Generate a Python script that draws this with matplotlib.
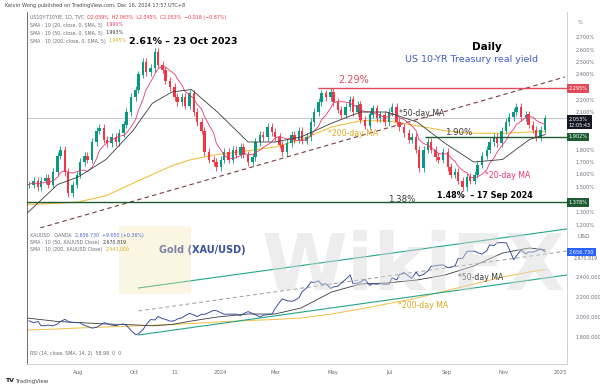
import matplotlib
matplotlib.use("Agg")
import matplotlib.pyplot as plt
import matplotlib.dates as mdates
from matplotlib.patches import FancyBboxPatch
import numpy as np
import pandas as pd

# US 10Y real yield (%), close every 3rd trading day from 9 Jun 2023
ry_close = [
    1.52, 1.55, 1.50, 1.55, 1.57, 1.52, 1.62, 1.75, 1.80, 1.62,
    1.45, 1.52, 1.60, 1.70, 1.75, 1.72, 1.86, 1.95, 1.97, 1.88,
    1.85, 1.90, 1.86, 1.93, 2.00, 2.10, 2.22, 2.28, 2.40, 2.50,
    2.42, 2.45, 2.58, 2.48, 2.44, 2.35, 2.30, 2.22, 2.18, 2.22,
    2.15, 2.25, 2.10, 2.02, 1.95, 1.78, 1.72, 1.70, 1.66, 1.72,
    1.78, 1.72, 1.80, 1.76, 1.82, 1.76, 1.70, 1.74, 1.86, 1.92,
    1.90, 1.98, 1.94, 1.90, 1.84, 1.78, 1.85, 1.92, 1.88, 1.95,
    1.87, 1.90, 2.02, 2.10, 2.18, 2.25, 2.22, 2.26, 2.18, 2.12,
    2.08, 2.14, 2.20, 2.10, 2.16, 2.04, 1.99, 2.08, 2.13, 2.05,
    2.08, 2.02, 2.10, 2.14, 2.02, 1.98, 1.93, 1.88, 1.90, 1.80,
    1.65, 1.80, 1.86, 1.80, 1.74, 1.72, 1.78, 1.66, 1.60, 1.62,
    1.55, 1.50, 1.58, 1.55, 1.60, 1.68, 1.75, 1.80, 1.86, 1.90,
    1.85, 1.95, 2.02, 2.06, 2.10, 2.14, 2.06, 2.08, 2.00, 1.96,
    1.90, 1.96, 2.05,
]

# gold XAU/USD close on the same days
gold_close = [
    1962, 1943, 1955, 1913, 1914, 1919, 1911, 1932, 1955, 1977,
    1955, 1945, 1944, 1942, 1915, 1907, 1889, 1897, 1914, 1942,
    1937, 1919, 1913, 1924, 1930, 1916, 1865, 1823, 1832, 1874,
    1920, 1974, 1971, 2006, 1983, 1977, 1958, 1963, 1981, 1992,
    2013, 2036, 2019, 2004, 2027, 2027, 2045, 2067, 2063, 2042,
    2027, 2029, 2028, 2029, 2014, 2033, 2054, 2035, 2024, 2000,
    2017, 2024, 2030, 2083, 2148, 2182, 2162, 2157, 2165, 2194,
    2250, 2290, 2352, 2344, 2361, 2327, 2332, 2286, 2301, 2309,
    2336, 2376, 2421, 2334, 2338, 2350, 2376, 2316, 2332, 2328,
    2334, 2327, 2330, 2392, 2371, 2422, 2445, 2409, 2387, 2447,
    2410, 2426, 2465, 2507, 2512, 2518, 2521, 2493, 2497, 2512,
    2582, 2587, 2657, 2658, 2659, 2643, 2630, 2662, 2721, 2714,
    2742, 2744, 2742, 2684, 2573, 2612, 2670, 2632, 2650, 2650,
    2660, 2681, 2652,
]

# moving averages
ma_dates = ["2023-06-07", "2023-07-10", "2023-08-01", "2023-08-31", "2023-09-29",
            "2023-10-20", "2023-11-10", "2023-12-01", "2023-12-29", "2024-01-31",
            "2024-02-29", "2024-03-28", "2024-04-30", "2024-05-31", "2024-06-28",
            "2024-07-31", "2024-08-30", "2024-09-30", "2024-10-31", "2024-11-29",
            "2024-12-16"]
ry_ma50 = [1.29, 1.52, 1.58, 1.72, 1.95, 2.17, 2.26, 2.28, 2.10, 1.86, 1.86,
           1.90, 2.01, 2.10, 2.10, 2.02, 1.85, 1.70, 1.72, 1.88, 1.92]
ry_ma200 = [1.36, 1.37, 1.38, 1.43, 1.53, 1.60, 1.67, 1.72, 1.76, 1.79, 1.82,
            1.88, 1.98, 2.03, 2.03, 1.99, 1.95, 1.93, 1.93, 1.94, 1.945]
gold_ma50 = [1990, 1955, 1945, 1930, 1922, 1912, 1925, 1960, 2000, 2030, 2030,
             2090, 2250, 2330, 2340, 2370, 2420, 2510, 2640, 2690, 2671]
gold_ma200 = [1870, 1880, 1890, 1900, 1910, 1918, 1925, 1935, 1950, 1965, 1975,
              1990, 2030, 2080, 2130, 2190, 2260, 2330, 2400, 2450, 2475]

# drawn levels / trendlines
res_level, res_start = 2.29, "2024-04-15"
mid_level, mid_start = 1.902, "2024-08-08"
sup_level = 1.378
trend_dates, trend_vals = ["2023-06-21", "2025-01-06"], [1.172, 2.38]
chan_dates = ["2023-10-05", "2025-01-08"]
chan_up, chan_lo, chan_mid = [2290, 2880], [1820, 2420], [2060, 2660]

ry_ticks = [1.2, 1.3, 1.5, 1.6, 1.7, 1.8, 2.1, 2.2, 2.4, 2.5, 2.6, 2.7]
gold_ticks = [1800, 2000, 2200, 2400]
xtick_dates = ["2023-08-01", "2023-10-01", "2023-11-13", "2024-01-01", "2024-03-01",
               "2024-05-01", "2024-07-01", "2024-09-01", "2024-11-01", "2025-01-01"]
xtick_labels = ["Aug", "Oct", "11", "2024", "Mar", "May", "Jul", "Sep", "Nov", "2025"]

UP, DN = "#089981", "#f23645"
PINK, DARK, YEL = "#e8386d", "#3a3a3a", "#f0c040"
GREEN, GOLDBLUE, TEAL = "#1e5b32", "#3d4f9f", "#23a58c"
GRAY = "#6a6d78"

dates = pd.bdate_range("2023-06-09", periods=len(ry_close), freq="3B")
x = mdates.date2num(dates)
mad = pd.to_datetime(ma_dates)

fig = plt.figure(figsize=(6, 3.87), dpi=100)
W, H = 600, 387


def box(x0, y0, x1, y1):
    return [x0 / W, 1 - y1 / H, (x1 - x0) / W, (y1 - y0) / H]


ax1 = fig.add_axes(box(27, 12, 567, 228))
ax2 = fig.add_axes(box(27, 228, 567, 345), sharex=ax1)
ax3 = fig.add_axes(box(27, 345, 567, 364), sharex=ax1)

for ax in (ax1, ax2, ax3):
    for s in ax.spines.values():
        s.set_color("#c8cad0")
        s.set_linewidth(0.6)
    ax.spines["left"].set_color("#555555")
    ax.spines["top"].set_visible(False)
    ax.yaxis.tick_right()
    ax.tick_params(axis="y", length=0, labelsize=3.6, labelcolor=GRAY, pad=6)
    ax.tick_params(axis="x", length=0)

# ---- top panel: real yield candles
c = np.array(ry_close)
o = np.r_[c[0], c[:-1]]
col = np.where(c >= o, UP, DN)
wick = 0.03
ax1.vlines(x, np.minimum(o, c) - wick, np.maximum(o, c) + wick, colors=col, lw=0.6, zorder=3)
ax1.bar(x, np.maximum(np.abs(c - o), 0.006), bottom=np.minimum(o, c), width=2.6,
        color=col, lw=0, zorder=3)
ma20 = pd.Series(ry_close).rolling(7, min_periods=1).mean()
ax1.plot(dates, ma20, color=PINK, lw=0.6, zorder=4)
ax1.plot(mad, ry_ma50, color=DARK, lw=0.6, zorder=4)
ax1.plot(mad, ry_ma200, color=YEL, lw=0.8, zorder=2)

ax1.axhline(ry_close[-1], color="#c0c0c0", lw=0.6, zorder=1)
xmax = pd.Timestamp("2025-01-08 10:00")
ax1.hlines(res_level, pd.Timestamp(res_start), xmax, color="#e04a5c", lw=1.0, zorder=5)
ax1.hlines(mid_level, pd.Timestamp(mid_start), xmax, color=GREEN, lw=1.0, zorder=5)
ax1.axhline(sup_level, color=GREEN, lw=1.0, zorder=5)
ax1.plot(pd.to_datetime(trend_dates), trend_vals, color="#7a3d3d", lw=0.8,
         ls=(0, (4, 3)), zorder=2)

ax1.set_xlim(pd.Timestamp("2023-06-07"), xmax)
ax1.set_ylim(1.172, 2.9)
ax1.set_yticks(ry_ticks)
ax1.yaxis.set_major_formatter(lambda v, p: f"{v:.3f}%")
ax1.tick_params(labelbottom=False)

t = pd.Timestamp
ax1.text(t("2023-09-25"), 2.66, "2.61% \u2013 23 Oct 2023", fontsize=6.8, fontweight="bold", va="center")
ax1.text(t("2024-10-14"), 2.62, "Daily", fontsize=7.5, fontweight="bold", ha="center", va="center")
ax1.text(t("2024-09-28"), 2.516, "US 10-YR Treasury real yield", fontsize=6.8,
         color="#3f5cc6", ha="center", va="center")
ax1.text(t("2024-05-07"), 2.356, "2.29%", fontsize=7, color="#e04a5c", va="center")
ax1.text(t("2024-07-12"), 2.092, "*50-day MA", fontsize=5.6, color=DARK, va="center")
ax1.text(t("2024-04-26"), 1.924, "*200-day MA", fontsize=5.6, color="#e0a820", va="center")
ax1.text(t("2024-08-30"), 1.935, "1.90%", fontsize=6.2, color=DARK, va="center")
ax1.text(t("2024-10-12"), 1.588, "*20-day MA", fontsize=5.6, color=PINK, va="center")
ax1.text(t("2024-08-21"), 1.436, "1.48%  \u2013 17 Sep 2024", fontsize=5.8, fontweight="bold", va="center")
ax1.text(t("2024-06-30"), 1.404, "1.38%", fontsize=6.2, color=DARK, va="center")

# legend lines top-left
lx = 30 / W
fig.text(5 / W, 1 - 5 / H, "Kelvin Wong published on TradingView.com, Dec 16, 2024 17:57 UTC+8",
         fontsize=3.6, color="#444444", va="center")
rows = [("US10Y-T10YIE, 1D, TVC  ", "O2.059%  H2.063%  L2.045%  C2.053%  \u22120.018 (\u22120.87%)", DN, 17),
        ("SMA \u00b7 10 (20, close, 0, SMA, 5)  ", "1.990%", PINK, 25),
        ("SMA \u00b7 10 (50, close, 0, SMA, 5)  ", "1.993%", DARK, 33),
        ("SMA \u00b7 10 (200, close, 0, SMA, 5)  ", "1.945%", "#e0a820", 41)]
for lab, val, vc, yy in rows:
    tt = fig.text(lx, 1 - yy / H, lab, fontsize=3.4, color=GRAY, va="center")
    fig.canvas.draw()
    bb = tt.get_window_extent()
    fig.text(bb.x1 / W, 1 - yy / H, val, fontsize=3.4, color=vc, va="center")

# ---- gold panel
ax2.plot(dates, gold_close, color=GOLDBLUE, lw=0.7, zorder=4)
ax2.plot(mad, gold_ma50, color=DARK, lw=0.6, zorder=3)
ax2.plot(mad, gold_ma200, color=YEL, lw=0.7, zorder=2)
cd = pd.to_datetime(chan_dates)
ax2.plot(cd, chan_up, color=TEAL, lw=0.8, zorder=3)
ax2.plot(cd, chan_lo, color=TEAL, lw=0.8, zorder=3)
ax2.plot(cd, chan_mid, color="#9a9a9a", lw=0.7, ls=(0, (4, 3)), zorder=3)
ax2.set_ylim(1720, 2890)
ax2.set_yticks(gold_ticks)
ax2.yaxis.set_major_formatter(lambda v, p: f"{v:,.3f}")
ax2.tick_params(labelbottom=False)
ax2.text(t("2023-10-27"), 2670, "Gold (XAU/USD)", fontsize=7, color=GOLDBLUE,
         fontweight="bold", va="center", zorder=6)
ax2.text(t("2024-09-13"), 2400, "*50-day MA", fontsize=5.6, color=DARK, va="center")
ax2.text(t("2024-07-10"), 2110, "*200-day MA", fontsize=5.6, color="#e0a820", va="center")

rows2 = [("XAUUSD \u00b7 OANDA  ", "2,656.730  +9.650 (+0.36%)", "#4a66c8", 235),
         ("SMA \u00b7 10 (50, XAUUSD Close)  ", "2,670.819", DARK, 242),
         ("SMA \u00b7 10 (200, XAUUSD Close)  ", "2,441.000", "#e0a820", 249)]
for lab, val, vc, yy in rows2:
    tt = fig.text(lx, 1 - yy / H, lab, fontsize=3.4, color=GRAY, va="center")
    fig.canvas.draw()
    bb = tt.get_window_extent()
    fig.text(bb.x1 / W, 1 - yy / H, val, fontsize=3.4, color=vc, va="center")

# watermark
fig.text(0.69, 0.31, "WikiFX", fontsize=56, fontweight="bold", color="#d8d8d8",
         alpha=0.45, ha="center", va="center", zorder=0)
fig.patches.append(FancyBboxPatch((122 / W, 1 - 292 / H), 66 / W, 64 / H,
                                  boxstyle="round,pad=0.005", transform=fig.transFigure,
                                  fc="#f6e7b0", ec="none", alpha=0.35, zorder=0))


# right-side price tags
def tag(ax, y, s, fc, tc="white", va="center"):
    ax.text(1.003, y, s, transform=ax.get_yaxis_transform(), fontsize=3.6, color=tc,
            va=va, ha="left", clip_on=False, zorder=10,
            bbox=dict(boxstyle="square,pad=0.35", fc=fc, ec="none"))


tag(ax1, res_level, "2.295%", "#e04a5c")
tag(ax1, ry_close[-1] + 0.012, "2.053%\n12:05:43", "#131722", va="top")
tag(ax1, mid_level, "1.902%", GREEN)
tag(ax1, sup_level, "1.378%", GREEN)
tag(ax2, gold_close[-1], "2,656.730", "#2962ff")
ax2.text(1.012, gold_close[-1] - 35, "2,670.819", transform=ax2.get_yaxis_transform(),
         fontsize=3.4, color=GRAY, va="top", clip_on=False)
ax1.text(1.02, 2.82, "%", transform=ax1.get_yaxis_transform(), fontsize=3.6, color=GRAY, va="center")
ax2.text(1.02, 2800, "USD", transform=ax2.get_yaxis_transform(), fontsize=4.2, color=GRAY, va="center")

# ---- RSI strip and time axis
ax3.set_yticks([])
ax3.text(0.006, 0.55, "RSI (14, close, SMA, 14, 2)  58.98  0  0", transform=ax3.transAxes,
         fontsize=3.4, color=GRAY, va="center")
ax3.set_xticks(pd.to_datetime(xtick_dates))
ax3.set_xticklabels(xtick_labels)
ax3.tick_params(axis="x", labelsize=3.8, labelcolor=GRAY, pad=4)

fig.text(5 / W, 1 - 381 / H, "TV", fontsize=4.5, fontweight="bold", color="#131722", va="center")
fig.text(15 / W, 1 - 381 / H, "TradingView", fontsize=4, color="#444444", va="center")

fig.savefig("out.png", dpi=100)
